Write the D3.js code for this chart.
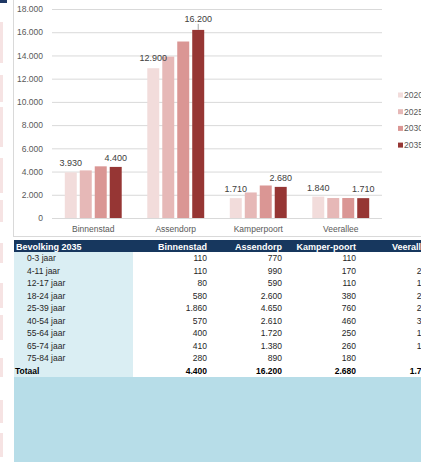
<!DOCTYPE html>
<html>
<head>
<meta charset="utf-8">
<script src="https://cdn.jsdelivr.net/npm/d3@7"></script>
<style>
  body { margin: 0; background: #fff; }
  svg { display: block; font-family: "Liberation Sans", Arial, sans-serif; }
</style>
</head>
<body>
<div id="chart"></div>
<script>
// bar chart data
var categories = ["Binnenstad", "Assendorp", "Kamperpoort", "Veerallee"];
var years = ["2020", "2025", "2030", "2035"];
var v2020 = [3930, 12900, 1710, 1840];
var v2025 = [4100, 13900, 2200, 1720];
var v2030 = [4450, 15200, 2800, 1720];
var v2035 = [4400, 16200, 2680, 1710];
var yTicks = [0, 2000, 4000, 6000, 8000, 10000, 12000, 14000, 16000, 18000];
var colors = ["#f2dcdb", "#e6b8b7", "#da9694", "#963634"];

// table data
var tableTitle = "Bevolking 2035";
var ageGroups = ["0-3 jaar", "4-11 jaar", "12-17 jaar", "18-24 jaar", "25-39 jaar",
                 "40-54 jaar", "55-64 jaar", "65-74 jaar", "75-84 jaar"];
var tableHeaders = ["Binnenstad", "Assendorp", "Kamper-poort", "Veerallee"];
var colBinnenstad = [110, 110, 80, 580, 1860, 570, 400, 410, 280];
var colAssendorp = [770, 990, 590, 2600, 4650, 2610, 1720, 1380, 890];
var colKamperpoort = [110, 170, 110, 380, 760, 460, 250, 260, 180];
var colVeerallee = [70, 240, 130, 210, 260, 340, 190, 180, 90];

var series = [v2020, v2025, v2030, v2035];
var tableCols = [colBinnenstad, colAssendorp, colKamperpoort, colVeerallee];

var nl = d3.formatLocale({decimal: ",", thousands: ".", grouping: [3], currency: ["", ""]});
var fmt = nl.format(",d");

var W = 421, H = 462;
var svg = d3.select("#chart").append("svg")
  .attr("width", W)
  .attr("height", H);

// left-side decoration (pieces of neighbouring sheet)
var strips = [[22, 63], [75, 102], [107, 147], [158, 193], [200, 222], [243, 263],
              [283, 308], [315, 340], [358, 377], [400, 423], [433, 457]];
svg.selectAll(".strip").data(strips).enter().append("rect")
  .attr("x", 0).attr("width", 3)
  .attr("y", function(d) { return d[0]; })
  .attr("height", function(d) { return d[1] - d[0]; })
  .attr("fill", "#f6e3e3");
svg.append("rect").attr("x", 0).attr("y", 0).attr("width", 7).attr("height", 3).attr("fill", "#1f3864");

// chart frame
svg.append("rect")
  .attr("x", 13.5).attr("y", -1).attr("width", 420).attr("height", 237.5)
  .attr("fill", "#fff").attr("stroke", "#d9d9d9");

var plotLeft = 52, plotRight = 382;
var x0 = d3.scaleBand().domain(categories).range([plotLeft, plotRight])
  .paddingInner(0.31).paddingOuter(0.155);
var x1 = d3.scaleBand().domain(years).range([0, x0.bandwidth()])
  .paddingInner(0.2).paddingOuter(0);
var y = d3.scaleLinear().domain([0, 18000]).range([218, 9]);

// y axis + gridlines
var yAxis = svg.append("g")
  .attr("transform", "translate(" + plotLeft + ",0)")
  .call(d3.axisLeft(y).tickValues(yTicks).tickFormat(fmt)
    .tickSize(-(plotRight - plotLeft)).tickPadding(9));
yAxis.select(".domain").remove();
yAxis.selectAll("line").attr("stroke", "#d9d9d9");
yAxis.selectAll("text").attr("fill", "#595959").style("font-size", "8.5px");

// bars
var groups = svg.selectAll(".grp").data(categories).enter().append("g")
  .attr("transform", function(c) { return "translate(" + x0(c) + ",0)"; });

groups.selectAll("rect")
  .data(function(c, i) { return years.map(function(yr, j) { return {yr: yr, j: j, v: series[j][i]}; }); })
  .enter().append("rect")
  .attr("x", function(d) { return x1(d.yr); })
  .attr("width", x1.bandwidth())
  .attr("y", function(d) { return y(d.v); })
  .attr("height", function(d) { return y(0) - y(d.v); })
  .attr("fill", function(d) { return colors[d.j]; });

// data labels on 2020 and 2035 bars
var lift = {"Assendorp": [1.5, 2]};  // extra lift for 2020 / 2035 labels
categories.forEach(function(c, i) {
  [0, 3].forEach(function(j, k) {
    var v = series[j][i];
    var extra = lift[c] ? lift[c][k] : 0;
    var cx = x0(c) + x1(years[j]) + x1.bandwidth() / 2;
    var ty = y(v) - 6 - extra;
    svg.append("text")
      .attr("x", cx).attr("y", ty)
      .attr("text-anchor", "middle")
      .attr("fill", "#404040")
      .style("font-size", "9px")
      .text(fmt(v));
    if (k === 1 && extra > 0) {
      svg.append("line")
        .attr("x1", cx).attr("x2", cx)
        .attr("y1", ty + 2).attr("y2", y(v))
        .attr("stroke", "#a6a6a6");
    }
  });
});

// category axis
var xAxis = svg.append("g")
  .attr("transform", "translate(0," + y(0) + ")")
  .call(d3.axisBottom(x0).tickSize(0).tickPadding(8));
xAxis.select(".domain").remove();
xAxis.selectAll("text").attr("fill", "#595959").style("font-size", "8.5px");

// legend
var legend = svg.selectAll(".leg").data(years).enter().append("g")
  .attr("transform", function(d, i) { return "translate(398," + (95 + i * 16.7) + ")"; });
legend.append("rect").attr("x", 0).attr("y", -2.5).attr("width", 5).attr("height", 5)
  .attr("fill", function(d, i) { return colors[i]; });
legend.append("text").attr("x", 6).attr("dy", "0.35em")
  .attr("fill", "#595959").style("font-size", "8.5px")
  .text(function(d) { return d; });

// table
var tLeft = 14, labelRight = 133, headTop = 240, rowH = 12.5;
var colRight = [207, 282, 356, 431];
var rowsTop = headTop + 12;
var rowY = d3.scaleBand().domain(d3.range(ageGroups.length + 1))
  .range([rowsTop, rowsTop + rowH * (ageGroups.length + 1)]);

svg.append("rect").attr("x", tLeft).attr("y", headTop).attr("width", W - tLeft).attr("height", 12)
  .attr("fill", "#17375e");
svg.append("rect").attr("x", tLeft).attr("y", rowsTop).attr("width", labelRight - tLeft)
  .attr("height", rowH * (ageGroups.length + 1)).attr("fill", "#daeef3");
var tableBottom = rowsTop + rowH * (ageGroups.length + 1);
svg.append("rect").attr("x", tLeft).attr("y", tableBottom).attr("width", W - tLeft)
  .attr("height", H - tableBottom).attr("fill", "#b7dde8");

svg.append("text").attr("x", tLeft + 2).attr("y", headTop + 9.5)
  .attr("fill", "#fff").attr("font-weight", "bold").style("font-size", "9px")
  .text(tableTitle);
tableHeaders.forEach(function(h, i) {
  svg.append("text").attr("x", colRight[i]).attr("y", headTop + 9.5)
    .attr("text-anchor", "end").attr("fill", "#fff").attr("font-weight", "bold")
    .style("font-size", "9px").text(h);
});

ageGroups.forEach(function(a, r) {
  var cy = rowY(r) + rowH / 2;
  svg.append("text").attr("x", 27).attr("y", cy).attr("dy", "0.35em")
    .attr("fill", "#262626").style("font-size", "8.5px").text(a);
  tableCols.forEach(function(col, i) {
    svg.append("text").attr("x", colRight[i]).attr("y", cy).attr("dy", "0.35em")
      .attr("text-anchor", "end").attr("fill", "#262626").style("font-size", "8.5px")
      .text(fmt(col[r]));
  });
});
var totY = rowY(ageGroups.length) + rowH / 2;
svg.append("text").attr("x", tLeft + 1).attr("y", totY).attr("dy", "0.35em")
  .attr("fill", "#000").attr("font-weight", "bold").style("font-size", "8.5px").text("Totaal");
tableCols.forEach(function(col, i) {
  svg.append("text").attr("x", colRight[i]).attr("y", totY).attr("dy", "0.35em")
    .attr("text-anchor", "end").attr("fill", "#000").attr("font-weight", "bold")
    .style("font-size", "8.5px").text(fmt(d3.sum(col)));
});
</script>
</body>
</html>
